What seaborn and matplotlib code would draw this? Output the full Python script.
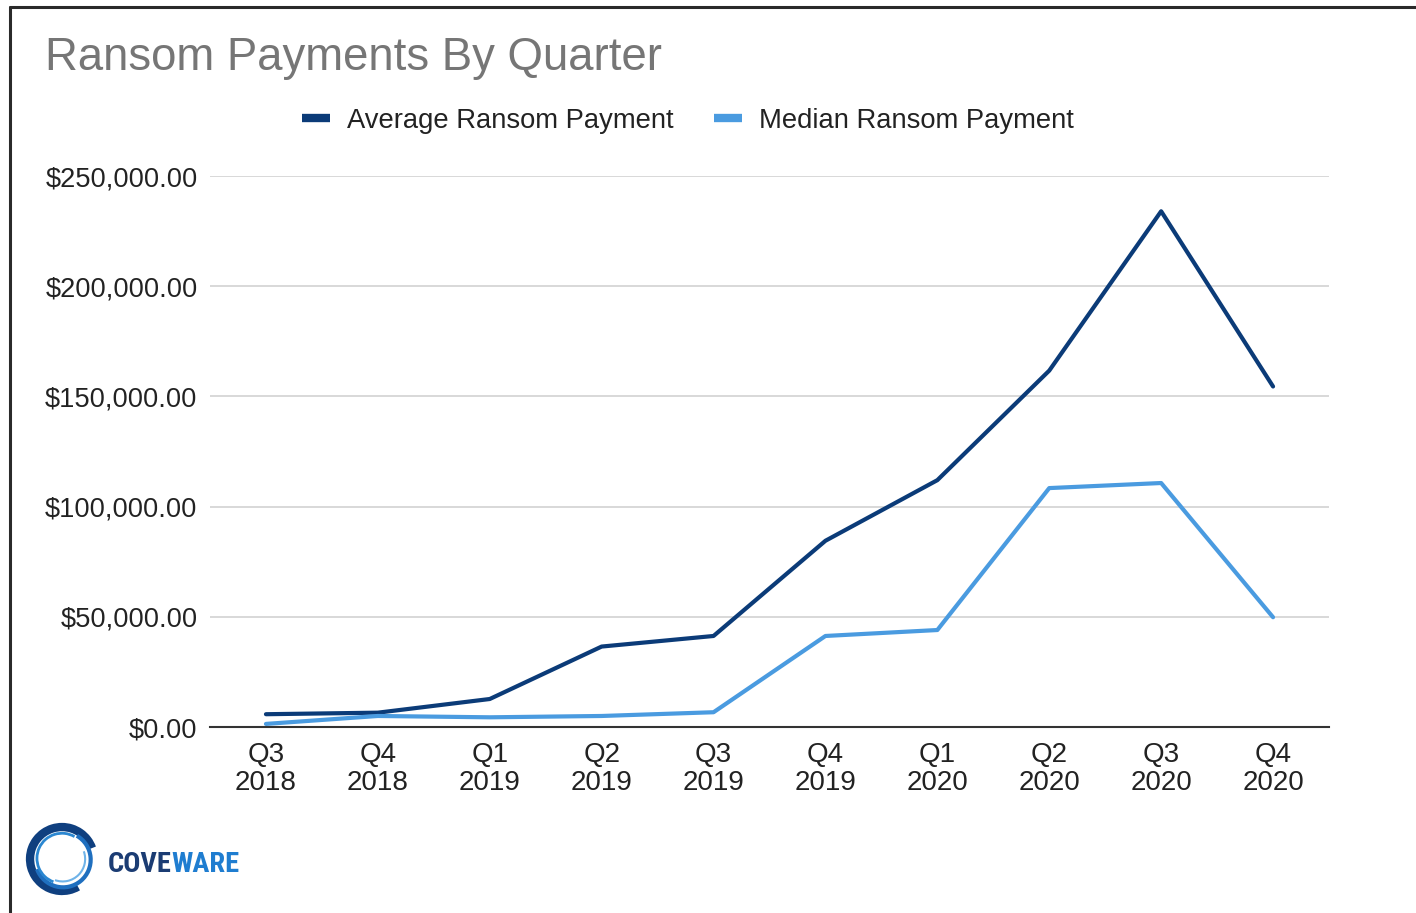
import matplotlib
matplotlib.use("Agg")
import matplotlib.pyplot as plt
import seaborn as sns
import pandas as pd
import numpy as np
from matplotlib.lines import Line2D
from matplotlib.patches import Arc
from matplotlib.ticker import FuncFormatter
from matplotlib import font_manager

quarters = ["Q3\n2018", "Q4\n2018", "Q1\n2019", "Q2\n2019", "Q3\n2019",
            "Q4\n2019", "Q1\n2020", "Q2\n2020", "Q3\n2020", "Q4\n2020"]
average = [5800, 6500, 12700, 36500, 41300, 84500, 112000, 161700, 234000, 154500]
median = [1400, 5000, 4400, 5000, 6700, 41300, 44000, 108400, 110700, 49800]
series_names = ["Average Ransom Payment", "Median Ransom Payment"]
colors = ["#0B3B78", "#4A9BE0"]
yticks = [0, 50000, 100000, 150000, 200000, 250000]

sns.set_theme(style="white")
plt.rcParams["font.family"] = ["Liberation Sans", "DejaVu Sans"]

df = pd.DataFrame({
    "Quarter": quarters * 2,
    "Value": average + median,
    "Series": [series_names[0]] * len(quarters) + [series_names[1]] * len(quarters),
})

W, H = 1416, 913
fig = plt.figure(figsize=(W / 100, H / 100), dpi=100)
fig.patch.set_facecolor("white")
ax = fig.add_axes([210 / W, 1 - 727 / H, (1329 - 210) / W, (727 - 176) / H])

sns.lineplot(data=df, x="Quarter", y="Value", hue="Series", palette=colors,
             hue_order=series_names, sort=False, linewidth=3, ax=ax, legend=False)

ax.set_xlim(-0.5, len(quarters) - 0.5)
ax.set_ylim(0, 250000)
ax.set_yticks(yticks)
ax.yaxis.set_major_formatter(FuncFormatter(lambda v, p: f"${v:,.2f}"))
ax.set_xlabel("")
ax.set_ylabel("")
ax.grid(axis="y", color="#d6d6d6", linewidth=1.3)
ax.set_axisbelow(True)
for s in ["top", "right", "left"]:
    ax.spines[s].set_visible(False)
ax.spines["bottom"].set_color("#333333")
ax.spines["bottom"].set_linewidth(1.5)
ax.spines["bottom"].set_zorder(5)
ax.tick_params(axis="y", length=0, pad=9, labelsize=19.6, labelcolor="#222222")
ax.tick_params(axis="x", length=0, pad=11, labelsize=20, labelcolor="#222222")
for lbl in ax.get_xticklabels():
    lbl.set_linespacing(1.08)

# Legend
handles = [Line2D([0], [0], color=c, linewidth=6, solid_capstyle="butt") for c in colors]
fig.legend(handles, series_names, loc="center left",
           bbox_to_anchor=(302 / W, 1 - 121 / H), ncol=2, frameon=False,
           fontsize=19.7, handlelength=1.02, handletextpad=0.64,
           columnspacing=1.45, borderpad=0, borderaxespad=0,
           labelcolor="#222222")

# Title
fig.text(45 / W, 1 - 70 / H, "Ransom Payments By Quarter", fontsize=32.8,
         color="#767676", ha="left", va="baseline")

# Border
fig.add_artist(Line2D([10 / W, 1], [1 - 7 / H, 1 - 7 / H], color="#2a2a2a",
                      linewidth=2.2, transform=fig.transFigure))
fig.add_artist(Line2D([10 / W, 10 / W], [0, 1 - 7 / H], color="#2a2a2a",
                      linewidth=2.2, transform=fig.transFigure))

# Logo
lax = fig.add_axes([24 / W, 1 - 897 / H, 76 / W, 76 / H])
lax.set_xlim(-1.1, 1.1)
lax.set_ylim(-1.1, 1.1)
lax.set_aspect("equal")
lax.axis("off")
lax.add_patch(Arc((0, 0), 1.85, 1.85, theta1=20, theta2=300, color="#0F3F7F", lw=6))
lax.add_patch(Arc((0.03, -0.02), 1.6, 1.6, theta1=200, theta2=420, color="#1F6FBF", lw=3))
lax.add_patch(Arc((0, 0.02), 1.45, 1.45, theta1=60, theta2=250, color="#2B87D1", lw=2))
lax.add_patch(Arc((0.02, 0), 1.3, 1.3, theta1=250, theta2=380, color="#6FB3E8", lw=1.5))

available = {f.name for f in font_manager.fontManager.ttflist}
logo_font = None
for cand in ["Liberation Sans Narrow", "DejaVu Sans Condensed", "Roboto Condensed"]:
    if cand in available:
        logo_font = cand
        break
if logo_font is None:
    logo_font = "Liberation Sans"
    logo_size = 17
else:
    logo_size = 20.5
t1 = fig.text(108 / W, 1 - 872 / H, "COVE", fontsize=logo_size, fontweight="bold",
              family=logo_font, color="#1B3C73", ha="left", va="baseline")
fig.canvas.draw()
bb = t1.get_window_extent()
fig.text(bb.x1 / W, 1 - 872 / H, "WARE", fontsize=logo_size, fontweight="bold",
         family=logo_font, color="#1F7DD0", ha="left", va="baseline")

fig.savefig("out.png", dpi=100, facecolor="white")
